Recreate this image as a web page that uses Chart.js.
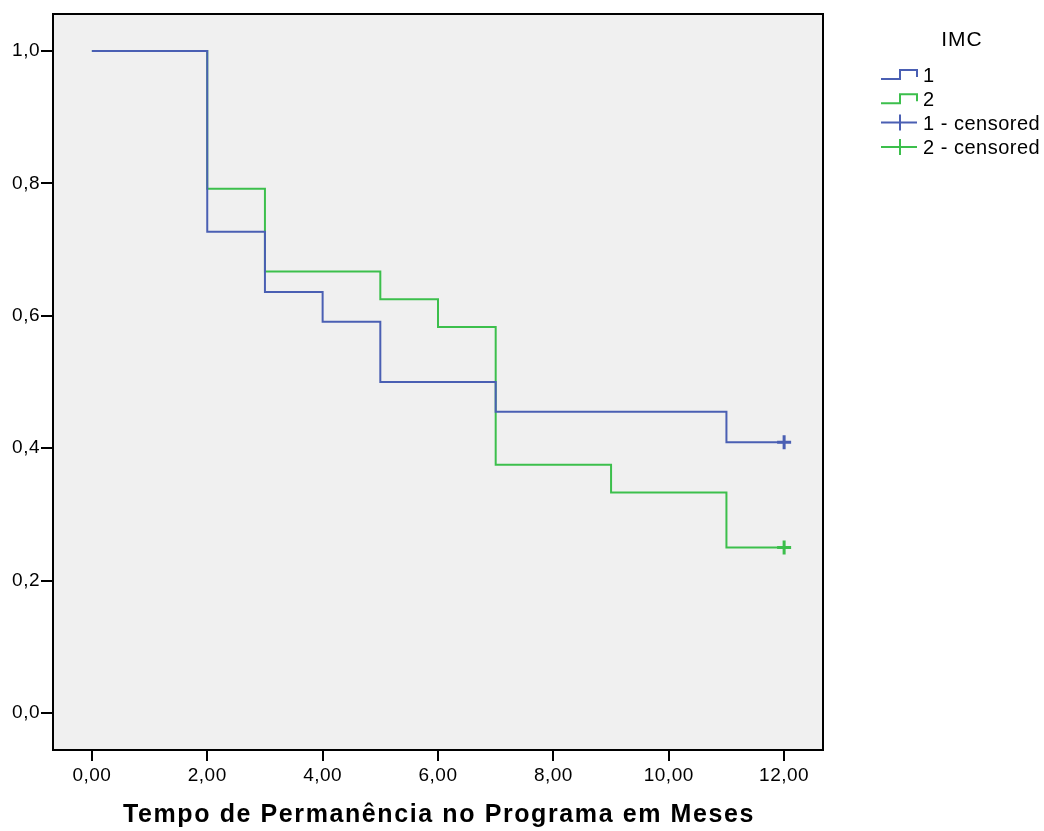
<!DOCTYPE html>
<html>
<head>
<meta charset="utf-8">
<script src="https://cdn.jsdelivr.net/npm/chart.js@4.4.0/dist/chart.umd.min.js"></script>
<style>
  body { margin: 0; background: #fff; }
  #wrap { width: 1044px; height: 831px; }
</style>
</head>
<body>
<div id="wrap"><canvas id="myChart" width="1044" height="831"></canvas></div>
<script>
// Kaplan-Meier steps
const imc1Time = [0, 2, 3, 4, 5, 7, 11, 12];
const imc1Surv = [1.0, 0.727, 0.636, 0.591, 0.5, 0.455, 0.409, 0.409];
const imc2Time = [0, 2, 3, 5, 6, 7, 9, 11, 12];
const imc2Surv = [1.0, 0.792, 0.667, 0.625, 0.583, 0.375, 0.333, 0.25, 0.25];
const censor1 = [[12, 0.409]];
const censor2 = [[12, 0.25]];
const xTicks = [0, 2, 4, 6, 8, 10, 12];
const yTicks = [0, 0.2, 0.4, 0.6, 0.8, 1.0];
const legendTitle = 'IMC';
const xTitle = 'Tempo de Permanência no Programa em Meses';

const blue = '#4a5fb3';
const green = '#3cbf4c';
const font = 'Liberation Sans, Arial, sans-serif';

function pts(xs, ys) { return xs.map((x, i) => ({ x: x, y: ys[i] })); }

const frame = {
  id: 'frame',
  beforeDraw(chart) {
    const a = chart.chartArea, c = chart.ctx;
    c.letterSpacing = '0.5px'; // spss text is a bit spread out
    c.save();
    c.fillStyle = '#f0f0f0';
    c.fillRect(a.left, a.top, a.right - a.left, a.bottom - a.top);
    c.restore();
  },
  afterDraw(chart) {
    const a = chart.chartArea, c = chart.ctx;
    c.save();
    c.strokeStyle = '#000';
    c.lineWidth = 2;
    c.strokeRect(a.left, a.top, a.right - a.left, a.bottom - a.top);

    // axis title
    c.fillStyle = '#000';
    c.font = 'bold 25px ' + font;
    c.letterSpacing = '1.6px';
    c.textAlign = 'center';
    c.textBaseline = 'middle';
    c.fillText(xTitle, (a.left + a.right) / 2 + 1, 815);

    // legend
    c.font = '21px ' + font;
    c.letterSpacing = '1px';
    c.fillText(legendTitle, 962, 40);
    c.font = '20px ' + font;
    c.letterSpacing = '0.5px';
    c.textAlign = 'left';
    let y = 75;
    chart.data.datasets.forEach(ds => {
      c.strokeStyle = ds.borderColor;
      c.lineWidth = 2;
      c.beginPath();
      if (ds.type === 'line') {
        c.moveTo(881, y + 4); c.lineTo(900, y + 4); c.lineTo(900, y - 5);
        c.lineTo(917, y - 5); c.lineTo(917, y + 2);
      } else {
        c.moveTo(881, y - 1); c.lineTo(917, y - 1);
        c.moveTo(900, y - 9); c.lineTo(900, y + 7);
      }
      c.stroke();
      c.fillText(ds.label, 923, y + 1);
      y += 24.3;
    });
    c.restore();
  }
};

new Chart(document.getElementById('myChart'), {
  type: 'line',
  data: {
    datasets: [
      { type: 'line', label: '1', data: pts(imc1Time, imc1Surv), borderColor: blue, borderWidth: 2, stepped: 'before', pointRadius: 0, fill: false },
      { type: 'line', label: '2', data: pts(imc2Time, imc2Surv), borderColor: green, borderWidth: 2, stepped: 'before', pointRadius: 0, fill: false },
      { type: 'scatter', label: '1 - censored', data: censor1.map(p => ({ x: p[0], y: p[1] })), borderColor: blue, backgroundColor: blue, pointStyle: 'cross', pointRadius: 7, borderWidth: 3, showLine: false },
      { type: 'scatter', label: '2 - censored', data: censor2.map(p => ({ x: p[0], y: p[1] })), borderColor: green, backgroundColor: green, pointStyle: 'cross', pointRadius: 7, borderWidth: 3, showLine: false }
    ]
  },
  options: {
    responsive: false,
    animation: false,
    layout: { padding: { top: 14, right: 221, left: 0, bottom: 0 } },
    plugins: { legend: { display: false }, tooltip: { enabled: false } },
    scales: {
      x: {
        type: 'linear',
        min: -0.674, max: 12.674,
        afterBuildTicks: s => { s.ticks = xTicks.map(v => ({ value: v })); },
        afterFit: s => { s.height = 81; },
        grid: { drawOnChartArea: false, drawTicks: true, tickLength: 11, color: '#000', lineWidth: 2 },
        border: { display: true, color: '#000', width: 2 },
        ticks: { color: '#000', font: { family: font, size: 19 }, padding: 3, maxRotation: 0,
                 callback: v => v.toFixed(2).replace('.', ',') }
      },
      y: {
        type: 'linear',
        min: -0.056, max: 1.056,
        afterBuildTicks: s => { s.ticks = yTicks.map(v => ({ value: v })); },
        afterFit: s => { s.width = 53; },
        grid: { drawOnChartArea: false, drawTicks: true, tickLength: 12, color: '#000', lineWidth: 2 },
        border: { display: true, color: '#000', width: 2 },
        ticks: { color: '#000', font: { family: font, size: 19 }, padding: 1,
                 callback: v => v.toFixed(1).replace('.', ',') }
      }
    }
  },
  plugins: [frame]
});
</script>
</body>
</html>
